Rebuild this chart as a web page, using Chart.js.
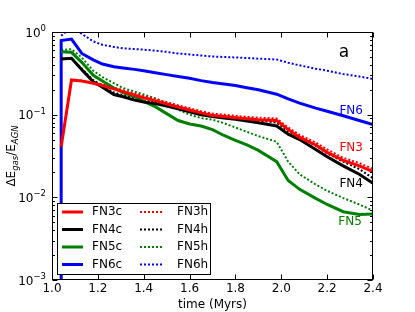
<!DOCTYPE html>
<html>
<head>
<meta charset="utf-8">
<script src="https://cdn.jsdelivr.net/npm/chart.js@4.4.1/dist/chart.umd.min.js"></script>
<style>
  html, body { margin: 0; padding: 0; background: #fff; }
  canvas { display: block; }
</style>
</head>
<body>
<canvas id="chart" width="415" height="312"></canvas>
<script>
// time (Myrs) shared by every run; first entry is the jump-in of FN6c
const time = [1.04, 1.04, 1.085, 1.13, 1.18, 1.22, 1.27, 1.31, 1.36, 1.4, 1.45, 1.5, 1.55, 1.6, 1.65, 1.7, 1.75, 1.8, 1.85, 1.9, 1.98, 2.03, 2.08, 2.15, 2.2, 2.27, 2.34, 2.4];

const fn3c = [null, 0.041, 0.263, 0.255, 0.24, 0.225, 0.205, 0.19, 0.172, 0.16, 0.148, 0.135, 0.124, 0.114, 0.105, 0.098, 0.095, 0.092, 0.089, 0.087, 0.085, 0.066, 0.053, 0.043, 0.035, 0.028, 0.024, 0.0205];
const fn3h = [null, 0.041, 0.263, 0.258, 0.245, 0.232, 0.213, 0.198, 0.18, 0.168, 0.155, 0.142, 0.13, 0.12, 0.11, 0.103, 0.1, 0.097, 0.094, 0.092, 0.09, 0.07, 0.057, 0.046, 0.038, 0.03, 0.026, 0.022];
const fn4c = [null, 0.47, 0.48, 0.35, 0.25, 0.215, 0.175, 0.165, 0.15, 0.142, 0.136, 0.127, 0.118, 0.108, 0.1, 0.095, 0.091, 0.088, 0.084, 0.08, 0.073, 0.058, 0.05, 0.038, 0.031, 0.024, 0.019, 0.0148];
const fn4h = [null, 0.47, 0.48, 0.36, 0.26, 0.225, 0.185, 0.172, 0.158, 0.148, 0.14, 0.131, 0.122, 0.112, 0.104, 0.098, 0.094, 0.091, 0.088, 0.085, 0.08, 0.063, 0.054, 0.042, 0.034, 0.027, 0.022, 0.017];
const fn5c = [null, 0.578, 0.568, 0.43, 0.3, 0.255, 0.21, 0.185, 0.165, 0.145, 0.125, 0.103, 0.085, 0.077, 0.073, 0.066, 0.056, 0.049, 0.043, 0.037, 0.027, 0.016, 0.0125, 0.0097, 0.0082, 0.0067, 0.0062, 0.0063];
const fn5h = [null, 0.606, 0.62, 0.49, 0.34, 0.285, 0.24, 0.21, 0.19, 0.175, 0.158, 0.138, 0.115, 0.1, 0.091, 0.087, 0.079, 0.07, 0.062, 0.055, 0.047, 0.027, 0.019, 0.0143, 0.012, 0.0098, 0.0082, 0.0069];
const fn6c = [0.00001, 0.79, 0.82, 0.55, 0.46, 0.41, 0.38, 0.367, 0.353, 0.34, 0.322, 0.305, 0.29, 0.275, 0.258, 0.245, 0.235, 0.225, 0.212, 0.2, 0.177, 0.155, 0.138, 0.12, 0.11, 0.097, 0.085, 0.076];
const fn6h = [null, 0.9, 1.15, 0.95, 0.77, 0.7, 0.66, 0.635, 0.622, 0.612, 0.595, 0.575, 0.55, 0.535, 0.52, 0.505, 0.498, 0.492, 0.484, 0.476, 0.465, 0.425, 0.395, 0.36, 0.34, 0.31, 0.29, 0.27];

const xTicks = [1.0, 1.2, 1.4, 1.6, 1.8, 2.0, 2.2, 2.4];
const xTickLabels = ["1.0", "1.2", "1.4", "1.6", "1.8", "2.0", "2.2", "2.4"];
const yTicks = [1, 0.1, 0.01, 0.001];
const yTickExps = ["0", "\u22121", "\u22122", "\u22123"];
const yMinorSteps = [2, 3, 4, 5, 6, 7, 8, 9];

// in-plot labels: [text, colour, time, value]
const curveLabels = [
  ["FN6", "#0000ff", 2.305, 0.111],
  ["FN3", "#ff0000", 2.305, 0.0395],
  ["FN4", "#000000", 2.305, 0.0145],
  ["FN5", "#008000", 2.3, 0.0051]
];

const FONT = "'DejaVu Sans', sans-serif";

function series(label, vals, color, dotted) {
  return {
    label,
    data: time.map((t, i) => ({ x: t, y: vals[i] })),
    borderColor: color,
    backgroundColor: color,
    borderWidth: dotted ? 2 : 3,
    borderDash: dotted ? [2, 2] : [],
    borderCapStyle: "butt",
    pointRadius: 0,
    tension: 0,
    clip: 0
  };
}

const datasets = [
  series("FN3c", fn3c, "#ff0000", false),
  series("FN4c", fn4c, "#000000", false),
  series("FN5c", fn5c, "#008000", false),
  series("FN6c", fn6c, "#0000ff", false),
  series("FN3h", fn3h, "#ff0000", true),
  series("FN4h", fn4h, "#000000", true),
  series("FN5h", fn5h, "#008000", true),
  series("FN6h", fn6h, "#0000ff", true)
];

// frame, ticks, labels and legend in matplotlib style
const decorations = {
  id: "decorations",
  afterDatasetsDraw(chart) {
    const ctx = chart.ctx;
    const a = chart.chartArea;
    const xs = chart.scales.x, ys = chart.scales.y;
    const L = Math.round(a.left) + 0.5, R = Math.round(a.right) - 0.5;
    const T = Math.round(a.top) + 0.5, B = Math.round(a.bottom) - 0.5;
    ctx.save();
    ctx.strokeStyle = "#000";
    ctx.lineWidth = 1;
    ctx.setLineDash([]);

    // ticks
    ctx.beginPath();
    xTicks.forEach(v => {
      const px = Math.round(xs.getPixelForValue(v)) + 0.5;
      ctx.moveTo(px, B); ctx.lineTo(px, B - 5);
      ctx.moveTo(px, T); ctx.lineTo(px, T + 5);
    });
    yTicks.forEach(v => {
      const py = Math.round(ys.getPixelForValue(v)) + 0.5;
      ctx.moveTo(L, py); ctx.lineTo(L + 5, py);
      ctx.moveTo(R, py); ctx.lineTo(R - 5, py);
      if (v < 1) {
        yMinorSteps.forEach(m => {
          const pm = Math.round(ys.getPixelForValue(v * m)) + 0.5;
          ctx.moveTo(L, pm); ctx.lineTo(L + 2.5, pm);
          ctx.moveTo(R, pm); ctx.lineTo(R - 2.5, pm);
        });
      }
    });
    ctx.stroke();

    // frame
    ctx.strokeRect(L, T, R - L, B - T);

    // x tick labels
    ctx.fillStyle = "#000";
    ctx.font = "12px " + FONT;
    ctx.textAlign = "center";
    ctx.textBaseline = "alphabetic";
    xTicks.forEach((v, i) => {
      ctx.fillText(xTickLabels[i], xs.getPixelForValue(v), a.bottom + 12);
    });
    ctx.fillText("time (Myrs)", (a.left + a.right) / 2, a.bottom + 28);

    // y tick labels 10^n
    yTicks.forEach((v, i) => {
      const py = ys.getPixelForValue(v);
      ctx.font = "8.5px " + FONT;
      const ew = ctx.measureText(yTickExps[i]).width;
      const right = a.left - 6;
      ctx.textAlign = "left";
      ctx.fillText(yTickExps[i], right - ew, py - 1);
      ctx.font = "12px " + FONT;
      ctx.textAlign = "right";
      ctx.fillText("10", right - ew, py + 4.5);
    });

    // y axis title: ΔE_gas / E_AGN
    ctx.save();
    ctx.translate(15, (a.top + a.bottom) / 2);
    ctx.rotate(-Math.PI / 2);
    const parts = [
      ["\u0394E", "12px " + FONT, 0],
      ["gas", "italic 8.5px " + FONT, 3],
      ["/E", "12px " + FONT, 0],
      ["AGN", "italic 8.5px " + FONT, 3]
    ];
    let total = 0;
    parts.forEach(p => { ctx.font = p[1]; total += ctx.measureText(p[0]).width; });
    let cx = -total / 2;
    ctx.textAlign = "left";
    parts.forEach(p => {
      ctx.font = p[1];
      ctx.fillText(p[0], cx, p[2]);
      cx += ctx.measureText(p[0]).width;
    });
    ctx.restore();

    // curve labels and panel letter
    ctx.textAlign = "center";
    ctx.textBaseline = "middle";
    ctx.font = "12px " + FONT;
    curveLabels.forEach(c => {
      ctx.fillStyle = c[1];
      ctx.fillText(c[0], xs.getPixelForValue(c[2]), ys.getPixelForValue(c[3]));
    });
    ctx.fillStyle = "#000";
    ctx.font = "17px " + FONT;
    ctx.fillText("a", xs.getPixelForValue(2.273), ys.getPixelForValue(0.56));

    // legend, two columns
    const lx = 57.5, ly = 203.5, lw = 153, lh = 71;
    ctx.fillStyle = "#fff";
    ctx.fillRect(lx, ly, lw, lh);
    ctx.strokeStyle = "#000";
    ctx.lineWidth = 1;
    ctx.strokeRect(lx, ly, lw, lh);
    const rows = [212, 229.5, 247, 264.5];
    const cols = [[62, 83, 92], [140, 163, 177]];
    ctx.textAlign = "left";
    ctx.font = "12px " + FONT;
    chart.data.datasets.forEach((ds, i) => {
      const col = cols[Math.floor(i / 4)];
      const y = rows[i % 4];
      ctx.strokeStyle = ds.borderColor;
      ctx.lineWidth = ds.borderWidth;
      ctx.lineCap = "butt";
      ctx.setLineDash(ds.borderDash);
      ctx.beginPath();
      ctx.moveTo(col[0], y); ctx.lineTo(col[1], y);
      ctx.stroke();
      ctx.setLineDash([]);
      ctx.fillStyle = "#000";
      ctx.fillText(ds.label, col[2], y);
    });
    ctx.restore();
  }
};

new Chart(document.getElementById("chart"), {
  type: "line",
  data: { datasets },
  options: {
    responsive: false,
    animation: false,
    layout: { padding: { left: 0, right: 42, top: 32, bottom: 0 } },
    plugins: { legend: { display: false }, tooltip: { enabled: false } },
    scales: {
      x: {
        type: "linear", min: 1.0, max: 2.4,
        grid: { display: false }, border: { display: false },
        ticks: { display: false },
        afterFit: s => { s.height = 32; }
      },
      y: {
        type: "logarithmic", min: 0.001, max: 1,
        grid: { display: false }, border: { display: false },
        ticks: { display: false },
        afterFit: s => { s.width = 52; }
      }
    }
  },
  plugins: [decorations]
});
</script>
</body>
</html>
